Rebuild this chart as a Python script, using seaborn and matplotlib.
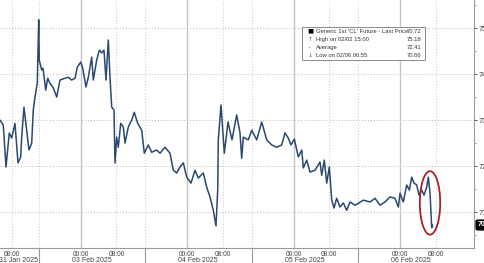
import numpy as np
import pandas as pd
import matplotlib
matplotlib.use("Agg")
import matplotlib.pyplot as plt
from matplotlib.patches import Ellipse, Rectangle
import seaborn as sns

# hours relative to 03 Feb 2025 00:00 (trading-time axis)
hours = [-18.27, -17.53, -16.92, -16.17, -15.63, -14.89, -14.21, -13.60, -13.38, -12.86,
         -12.25, -11.73, -11.12, -10.76, -10.38, -9.86, -9.54, -9.41, -8.87, -8.57,
         -7.96, -7.51, -6.99, -6.25, -5.48, -4.74, -3.61, -2.86, -2.10, -1.35,
         -0.83, -0.07, 0.38, 1.13, 1.65, 2.41, 2.77, 3.54, 4.13, 4.67,
         5.19, 5.64, 6.16, 6.54, 6.93, 7.44, 7.67, 8.05, 8.41, 8.96,
         9.54, 9.93, 10.67, 11.44, 12.02, 12.79, 13.69, 14.28, 15.18, 15.95,
         17.08, 17.82, 18.95, 20.08, 20.82, 21.59, 22.33, 23.08, 23.84, 24.81,
         25.72, 26.46, 27.59, 28.36, 29.10, 29.84, 30.45, 30.84, 30.97, 31.58,
         32.33, 33.16, 34.06, 35.12, 35.87, 36.25, 36.61, 37.74, 38.51, 39.64,
         40.76, 41.89, 43.02, 44.15, 45.27, 46.02, 46.76, 47.37, 48.12, 49.02,
         49.79, 50.15, 50.91, 51.66, 52.79, 53.91, 54.30, 54.88, 55.43, 56.01,
         56.56, 57.07, 57.68, 58.42, 59.17, 59.94, 60.68, 61.81, 62.71, 63.68,
         65.19, 66.32, 67.45, 68.58, 69.70, 70.83, 71.58, 71.96, 72.70, 73.47,
         74.06, 74.60, 75.12, 75.73, 76.25, 76.86, 77.37, 77.98, 78.35, 78.73,
         79.11, 79.29]
price = [73.00, 72.89, 71.98, 72.72, 72.61, 72.93, 72.07, 72.20, 72.63, 73.28,
         72.78, 72.35, 72.50, 73.22, 73.50, 73.80, 75.18, 74.30, 74.09, 74.13,
         73.65, 73.91, 73.80, 73.70, 73.50, 73.87, 73.91, 73.93, 73.87, 73.91,
         74.15, 74.26, 74.13, 73.72, 73.93, 74.37, 73.87, 74.30, 74.52, 74.46,
         74.52, 73.87, 74.74, 73.93, 73.28, 73.22, 72.07, 72.63, 72.41, 72.93,
         72.85, 72.50, 72.85, 73.00, 73.17, 72.93, 72.78, 72.28, 72.46, 72.30,
         72.35, 72.28, 72.41, 72.28, 71.91, 71.85, 71.98, 72.07, 71.76, 71.63,
         71.91, 71.74, 71.85, 71.54, 71.33, 71.04, 70.70, 71.48, 72.57, 73.33,
         72.28, 72.96, 72.57, 73.11, 72.72, 72.17, 72.63, 72.57, 72.78, 72.57,
         72.96, 72.57, 72.46, 72.41, 72.46, 72.72, 72.61, 72.46, 72.59, 72.20,
         72.35, 71.96, 72.13, 71.87, 71.91, 72.09, 71.80, 72.13, 71.63, 71.98,
         71.26, 71.09, 71.30, 71.11, 71.20, 71.04, 71.22, 71.15, 71.20, 71.26,
         71.22, 71.30, 71.15, 71.22, 71.33, 71.30, 71.11, 71.41, 71.22, 71.59,
         71.48, 71.76, 71.63, 71.59, 71.37, 71.48, 71.37, 71.54, 71.76, 71.41,
         70.66, 70.72]

y_ticks = [71, 72, 73, 74, 75]
y_tick_labels = ["71.00", "72.00", "73.00", "74.00", "75.00"]
midnight_hours = [0, 24, 48, 72]
eight_hours = [-15.6, 8, 32, 56, 80]
time_labels = ["08:00", "00:00", "08:00", "00:00", "08:00", "00:00", "08:00", "00:00", "08:00"]
time_tick_hours = [-15.6, 0, 8, 24, 32, 48, 56, 72, 80]
date_labels = ["31 Jan 2025", "03 Feb 2025", "04 Feb 2025", "05 Feb 2025", "06 Feb 2025"]
date_label_hours = [-14.1, 2.5, 26.4, 50.5, 74.4]
separator_hours = [-9.47, 14.4, 38.6, 62.5]

legend_names = ["Generic 1st 'CL' Future - Last Price", "High on 02/02 15:00", "Average", "Low on 02/06 06:55"]
legend_values = ["70.72", "75.18", "72.41", "70.66"]
legend_marks = ["\u25A0", "\u2191", "\u2013", "\u2193"]
last_price = 70.72

df = pd.DataFrame({"h": hours, "p": price})

sns.set_style("white")
plt.rcParams["font.family"] = ["Liberation Sans", "DejaVu Sans"]

fig = plt.figure(figsize=(4.85, 2.63), dpi=100)
ax = fig.add_axes([0.0, 15 / 263, 474 / 485, 248 / 263])

xmin, xmax = -18.27, 88.65
ymin, ymax = 70.22, 75.61

# grid
for yv in y_ticks:
    ax.axhline(yv, color="#b8b8b8", lw=0.7, ls=(0, (1, 2)), zorder=1)
for xv in midnight_hours:
    ax.axvline(xv, color="#c4c4c4", lw=1.0, zorder=1)
for xv in eight_hours + separator_hours:
    ax.axvline(xv, color="#c4c4c4", lw=0.7, ls=(0, (1, 2)), zorder=1)

sns.lineplot(data=df, x="h", y="p", ax=ax, color="#2a4870", lw=1.1, zorder=3)

ell = Ellipse((78.73, 71.20), width=4.6, height=1.38, fill=False,
              edgecolor="#a8222c", lw=1.3, zorder=4)
ax.add_patch(ell)

ax.set_xlim(xmin, xmax)
ax.set_ylim(ymin, ymax)
ax.set_xlabel("")
ax.set_ylabel("")

for s in ["left", "top"]:
    ax.spines[s].set_visible(False)
for s in ["right", "bottom"]:
    ax.spines[s].set_color("#9a9a9a")
    ax.spines[s].set_linewidth(0.8)

ax.yaxis.tick_right()
ax.set_yticks(y_ticks)
ax.set_yticklabels(y_tick_labels)
ax.set_yticks(np.arange(70.5, 75.6, 0.5), minor=True)
ax.tick_params(axis="y", which="major", direction="out", length=2.5, width=0.7,
               color="#555555", labelsize=5.3, pad=0.8, labelcolor="#333333")
ax.tick_params(axis="y", which="minor", direction="out", length=1.5, width=0.5, color="#777777")

ax.set_xticks(time_tick_hours)
ax.set_xticklabels(time_labels)
ax.tick_params(axis="x", which="major", direction="out", length=1.5, width=0.6,
               color="#888888", labelsize=4.8, pad=0.3, labelcolor="#444444")

trans = ax.get_xaxis_transform()
for lab, hx in zip(date_labels, date_label_hours):
    ax.text(hx, -0.036, lab, transform=trans, ha="center", va="top",
            fontsize=5.0, color="#444444", clip_on=False)
for hx in separator_hours:
    ax.plot([hx, hx], [0, -0.07], transform=trans, color="#9a9a9a", lw=0.8, clip_on=False)

# last price tag
ax.annotate("70.72", xy=(1.0, last_price), xycoords=("axes fraction", "data"),
            xytext=(2.5, 0), textcoords="offset points", ha="left", va="center",
            fontsize=5, color="white", fontweight="bold",
            bbox=dict(boxstyle="round,pad=0.2", fc="black", ec="black"), annotation_clip=False)

# legend box
lx0, ly0, lx1, ly1 = 302 / 474, 1 - 60 / 248, 425 / 474, 1 - 27 / 248
ax.add_patch(Rectangle((lx0, ly0), lx1 - lx0, ly1 - ly0, transform=ax.transAxes,
                       fc="white", ec="#8a8a8a", lw=0.7, zorder=6))
row_h = (ly1 - ly0) / 4
for i, (m, n, v) in enumerate(zip(legend_marks, legend_names, legend_values)):
    yy = ly1 - row_h * (i + 0.5)
    ax.text(lx0 + 0.012, yy, m, transform=ax.transAxes, fontsize=4.2 if i else 4.6,
            va="center", ha="left", color="black" if i == 0 else "#555555", zorder=7,
            family=["DejaVu Sans"])
    ax.text(lx0 + 0.029, yy, n, transform=ax.transAxes, fontsize=4.2, va="center",
            ha="left", color="#333333", zorder=7)
    ax.text(lx1 - 0.007, yy, v, transform=ax.transAxes, fontsize=4.2, va="center",
            ha="right", color="#333333", zorder=7)

fig.savefig("out.png", dpi=100)
